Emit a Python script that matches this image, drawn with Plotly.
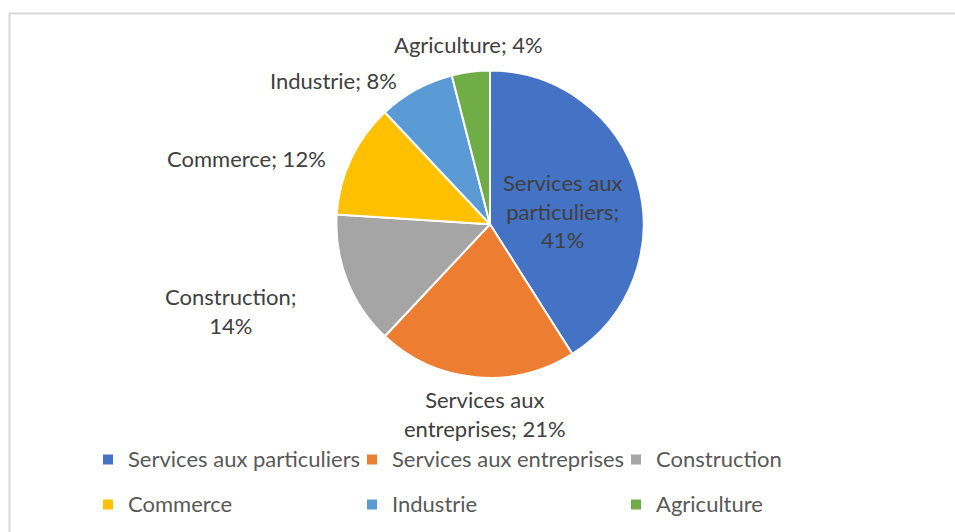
import plotly.graph_objects as go

labels = ["Services aux particuliers", "Services aux entreprises", "Construction",
          "Commerce", "Industrie", "Agriculture"]
values = [41, 21, 14, 12, 8, 4]
colors = ["#4472C4", "#ED7D31", "#A5A5A5", "#FFC000", "#5B9BD5", "#70AD47"]

# how each data label is wrapped (word counts per line of "label; value%")
wraps = [[2, 1, 1], [2, 2], [1, 1], None, None, None]
# label anchor positions in pixels (centre of text block)
label_pos = [(562, 212), (485, 416), (230, 313), (246, 159), (333, 81), (468, 45)]

W, H = 955, 532
FONT = "Lato"
TXT = 22
ROW_FONT = 32.3  # legend line height driver -> ~45 px between legend rows

legend_names = [f"<span style='font-size:{TXT}px;baseline-shift:5px'>{l}</span>" for l in labels]

fig = go.Figure()
fig.add_trace(go.Pie(
    labels=legend_names, values=values, sort=False, direction="clockwise", rotation=0,
    marker=dict(colors=colors, line=dict(color="white", width=2)),
    textinfo="none", customdata=labels,
    hovertemplate="%{customdata}: %{percent}<extra></extra>",
    domain=dict(x=[335 / W, 645 / W], y=[1 - 380 / H, 1 - 71 / H]),
))

annotations = []
for lab, val, wr, (px, py) in zip(labels, values, wraps, label_pos):
    words = f"{lab}; {val}%".split(" ")
    if wr:
        lines, i = [], 0
        for n in wr:
            lines.append(" ".join(words[i:i + n]))
            i += n
        txt = "<br>".join(lines)
    else:
        txt = " ".join(words)
    annotations.append(dict(
        x=px / W, y=1 - py / H, xref="paper", yref="paper", text=txt,
        showarrow=False, xanchor="center", yanchor="middle", align="center",
        font=dict(family=FONT, size=TXT, color="#404040"),
    ))

fig.update_layout(
    width=W, height=H, margin=dict(l=0, r=0, t=0, b=0), autosize=False,
    paper_bgcolor="white", plot_bgcolor="white",
    annotations=annotations,
    showlegend=True,
    legend=dict(orientation="h", x=88 / W, y=1 - 434.5 / H, xanchor="left", yanchor="top",
                entrywidth=219, entrywidthmode="pixels",
                font=dict(family=FONT, size=ROW_FONT, color="#595959"),
                bgcolor="rgba(0,0,0,0)", traceorder="normal"),
    shapes=[dict(type="rect", xref="paper", yref="paper",
                 x0=9.5 / W, x1=1.02, y0=-0.02, y1=1 - 13.5 / H,
                 line=dict(color="#D9D9D9", width=2), fillcolor="rgba(0,0,0,0)")],
)

fig.write_html("out.html", config={"displayModeBar": False},
               post_script="document.body.style.margin='0px';")
